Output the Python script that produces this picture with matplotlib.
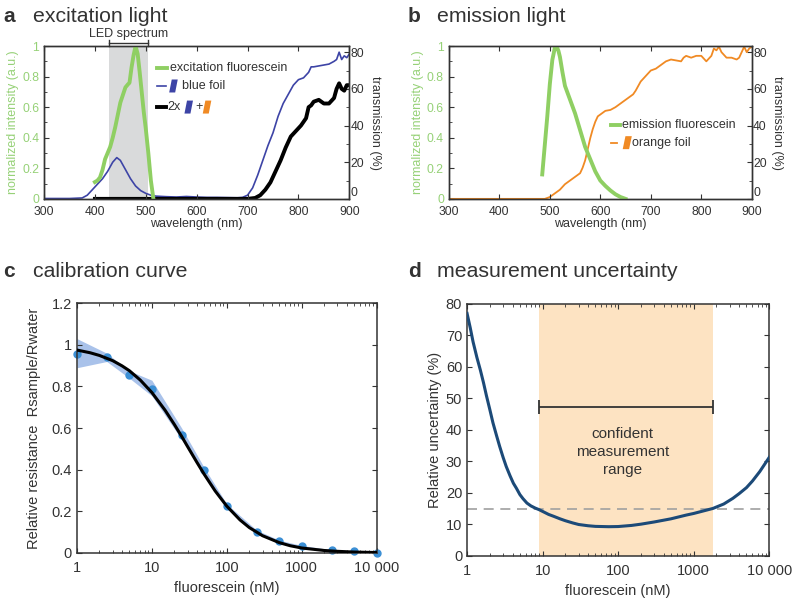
import matplotlib
matplotlib.use("Agg")
import matplotlib.pyplot as plt
from matplotlib.patches import Polygon
from matplotlib.ticker import MultipleLocator, FixedLocator, FixedFormatter, NullFormatter
import numpy as np

plt.rcParams['font.family'] = ['Liberation Sans', 'DejaVu Sans']
plt.rcParams['text.color'] = '#333333'
plt.rcParams['axes.labelcolor'] = '#333333'
plt.rcParams['xtick.color'] = '#333333'
plt.rcParams['ytick.color'] = '#333333'

# ---- panel a: excitation ----
exc_wl = [400, 405, 410, 415, 420, 425, 430, 435, 440, 445, 450, 455, 460, 465, 468,
          472, 476, 480, 484, 488, 492, 496, 500, 505, 510, 515]
exc_val = [0.11, 0.12, 0.14, 0.19, 0.26, 0.30, 0.34, 0.40, 0.47, 0.55, 0.63, 0.68, 0.73,
           0.75, 0.76, 0.86, 0.94, 1.0, 0.95, 0.83, 0.70, 0.57, 0.46, 0.30, 0.12, 0.0]

blue_wl = [300, 350, 375, 385, 395, 405, 415, 425, 435, 443, 450, 460, 470, 480, 490, 500,
           510, 520, 540, 560, 580, 600, 620, 640, 660, 680, 690, 700, 710, 720, 730, 740,
           750, 760, 770, 780, 790, 800, 810, 820, 825, 830, 840, 850, 860, 870, 875, 880,
           885, 890, 895, 900]
blue_val = [0.2, 0.2, 0.5, 2, 5, 8, 11, 15, 20, 22.5, 21, 16, 11, 7, 4.5, 3,
            2, 1.5, 1.2, 1.0, 1.3, 1.0, 0.8, 0.8, 0.7, 0.6, 0.8, 2, 6, 13, 21, 29,
            36, 45, 52, 57, 62, 65, 66, 69, 72, 72, 72.5, 73, 73.5, 75, 76, 80,
            76, 78, 77, 79]

blk_wl = [400, 500, 700, 715, 725, 735, 745, 755, 765, 775, 785, 795, 805, 815, 820, 825,
          830, 840, 850, 860, 870, 875, 880, 885, 890, 895, 900]
blk_val = [0, 0, 0, 0.5, 2, 5, 9, 15, 21, 28, 34, 37, 40, 44, 50, 51,
           53, 54, 52, 52, 55, 60, 63, 60, 59, 62, 62]

led_range = (428, 505)

# ---- panel b: emission ----
em_wl = [485, 490, 495, 500, 505, 510, 513, 517, 520, 525, 530, 540, 550, 560, 570, 580,
         590, 600, 610, 620, 630, 640, 650]
em_val = [0.16, 0.35, 0.54, 0.75, 0.91, 0.99, 1.0, 0.97, 0.93, 0.83, 0.74, 0.65, 0.56,
          0.45, 0.34, 0.26, 0.18, 0.12, 0.085, 0.055, 0.03, 0.012, 0.0]

or_wl = [300, 480, 490, 500, 510, 520, 530, 540, 550, 560, 565, 570, 575, 580, 585, 590,
         595, 600, 610, 620, 630, 640, 650, 660, 665, 670, 680, 690, 700, 710, 720, 730,
         740, 750, 760, 765, 770, 780, 790, 800, 810, 820, 825, 830, 835, 840, 850, 860,
         870, 875, 880, 885, 890, 895, 900]
or_val = [0, 0, 0, 1, 3, 5, 8, 10, 12, 14, 17, 21, 27, 33, 38, 42,
          45, 46, 48, 48.5, 50, 52, 54, 56, 57, 59, 64, 67, 70, 71, 73, 75,
          76, 75.5, 75, 77, 78, 77, 78, 78, 75, 78, 82, 81, 83, 80, 77, 77,
          76, 77, 80, 83, 80, 82, 83]

# ---- panel c: calibration ----
conc = [1, 2.5, 5, 10, 25, 50, 100, 250, 500, 1000, 2500, 5000, 10000]
ratio = [0.957, 0.94, 0.855, 0.788, 0.567, 0.398, 0.226, 0.10, 0.056, 0.032, 0.013, 0.008, 0.0]
band_lo = [0.89, 0.92, 0.84, 0.755, 0.545, 0.385, 0.215, 0.095, 0.05, 0.027, 0.01, 0.005, 0.0]
band_hi = [1.03, 0.96, 0.875, 0.83, 0.60, 0.41, 0.235, 0.11, 0.062, 0.036, 0.016, 0.01, 0.003]
fit_x = [1, 1.5, 2, 3, 4, 5, 7, 10, 15, 20, 25, 30, 40, 50, 70, 100, 150, 200, 300,
         500, 700, 1000, 2000, 3000, 5000, 10000]
fit_y = [0.975, 0.962, 0.949, 0.924, 0.899, 0.876, 0.831, 0.771, 0.686, 0.617, 0.56,
         0.511, 0.435, 0.378, 0.298, 0.225, 0.159, 0.122, 0.083, 0.050, 0.035, 0.024,
         0.012, 0.008, 0.0045, 0.0022]

# ---- panel d: uncertainty ----
unc_x = [1, 1.1, 1.2, 1.35, 1.5, 1.65, 1.8, 2.0, 2.2, 2.45, 2.7, 3.0, 3.3, 3.7, 4.1, 4.5,
         5, 5.5, 6.2, 7, 8, 9, 10.5, 12, 14, 17, 20, 25, 30, 40, 50, 75, 100,
         150, 200, 300, 500, 800, 1000, 1500, 1800, 2500, 3300, 4000, 5000, 6000, 7500, 10000]
unc_y = [77, 72.5, 68, 63, 59, 55, 51, 46.5, 42.3, 38.3, 34.8, 31.3, 28.4, 25.5, 23.1, 21.5,
         19.5, 18.2, 16.8, 15.9, 15.2, 14.7, 13.9, 13.2, 12.6, 11.8, 11.2, 10.5, 10.0, 9.6, 9.4,
         9.3, 9.35, 9.7, 10.1, 10.8, 11.8, 13.0, 13.5, 14.6, 15.1, 16.5, 18.3,
         19.8, 21.7, 23.8, 26.8, 31.3]
conf_range = (9, 1780)
threshold = 15
bar_level = 47.4

log_ticks = [1, 10, 100, 1000, 10000]
log_labels = ['1', '10', '100', '1000', '10 000']

GREEN = '#8fcf63'
GREEN_TXT = '#96d177'
BLUE = '#3d44a6'
ORANGE = '#f08a24'
DARK = '#333333'

fig = plt.figure(figsize=(7.93, 5.99), dpi=100)


def panel_title(x, y, letter, text):
    fig.text(x, y, letter, fontsize=15, fontweight='bold', color=DARK, va='baseline')
    fig.text(x + 0.037, y, text, fontsize=15.3, color=DARK, va='baseline')


def para(ax, x0, x1, y, h, color):
    s = (x1 - x0) * 0.3
    pts = [(x0, y - h / 2), (x1 - s, y - h / 2), (x1, y + h / 2), (x0 + s, y + h / 2)]
    ax.add_patch(Polygon(pts, closed=True, transform=ax.transAxes, color=color,
                         clip_on=False, lw=0))


def spectrum_axes(rect):
    ax = fig.add_axes(rect)
    ax.set_xlim(300, 900)
    ax.set_ylim(0, 1)
    ax.xaxis.set_major_locator(MultipleLocator(100))
    ax.yaxis.set_minor_locator(MultipleLocator(0.1))
    ax.set_yticks([0, 0.2, 0.4, 0.6, 0.8, 1.0])
    ax.set_yticklabels(['0', '0.2', '0.4', '0.6', '0.8', '1'])
    ax.tick_params(axis='both', which='both', direction='in', labelsize=8.7, top=True, right=False)
    ax.tick_params(axis='x', pad=5)
    ax.tick_params(axis='y', which='both', labelcolor=GREEN_TXT, color=DARK)
    ax.set_ylabel('normalized intensity (a.u.)', color=GREEN_TXT, fontsize=9, labelpad=2)
    ax.set_xlabel('wavelength (nm)', fontsize=9, labelpad=0)
    ax2 = ax.twinx()
    ax2.set_ylim(0, 83.3)
    ax2.set_yticks([0, 20, 40, 60, 80])
    ax2.yaxis.set_minor_locator(MultipleLocator(10))
    ax2.tick_params(axis='y', which='both', direction='in', labelsize=8.7, pad=1)
    ax2.set_ylabel('transmission (%)', fontsize=9, rotation=270, labelpad=12)
    for lbl in ax2.get_yticklabels():
        lbl.set_va('bottom') if lbl.get_text() == '0' else None
    for a in (ax, ax2):
        for sp in a.spines.values():
            sp.set_color(DARK)
            sp.set_linewidth(1.0)
    return ax, ax2


# ---------------- panel a ----------------
axa, axa2 = spectrum_axes([0.0555, 0.668, 0.385, 0.255])
axa2.axvspan(led_range[0], led_range[1], color='#d9dadb', lw=0, zorder=0)
axa2.plot(blue_wl, blue_val, color=BLUE, lw=1.2, zorder=2)
axa2.plot(blk_wl, blk_val, color='black', lw=2.8, zorder=2)
axa.set_zorder(axa2.get_zorder() + 1)
axa.patch.set_visible(False)
axa.plot(exc_wl, exc_val, color=GREEN, lw=2.8)
# LED bracket
tr = axa.get_xaxis_transform()
axa.plot([led_range[0], led_range[1]], [1.02, 1.02], color=DARK, lw=1, clip_on=False, transform=tr)
for xb in led_range:
    axa.plot([xb, xb], [1.0, 1.04], color=DARK, lw=1, clip_on=False, transform=tr)
axa.text(sum(led_range) / 2, 1.06, 'LED spectrum', ha='center', va='baseline', fontsize=9,
         transform=tr)
# legend
axa.plot([0.370, 0.403], [0.856, 0.856], color=GREEN, lw=2.8, transform=axa.transAxes, clip_on=False)
axa.text(0.413, 0.856, 'excitation fluorescein', va='center', fontsize=9, transform=axa.transAxes)
axa.plot([0.370, 0.400], [0.739, 0.739], color=BLUE, lw=1.2, transform=axa.transAxes)
para(axa, 0.410, 0.438, 0.739, 0.085, BLUE)
axa.text(0.452, 0.739, 'blue foil', va='center', fontsize=9, transform=axa.transAxes)
axa.plot([0.370, 0.400], [0.601, 0.601], color='black', lw=2.8, transform=axa.transAxes)
axa.text(0.405, 0.601, '2x', va='center', fontsize=9, transform=axa.transAxes)
para(axa, 0.460, 0.488, 0.601, 0.085, BLUE)
axa.text(0.495, 0.601, '+', va='center', fontsize=9, transform=axa.transAxes)
para(axa, 0.520, 0.548, 0.601, 0.085, ORANGE)
panel_title(0.004, 0.963, 'a', 'excitation light')

# ---------------- panel b ----------------
axb, axb2 = spectrum_axes([0.566, 0.668, 0.382, 0.255])
axb2.plot(or_wl, or_val, color=ORANGE, lw=1.3)
axb.set_zorder(axb2.get_zorder() + 1)
axb.patch.set_visible(False)
axb.plot(em_wl, em_val, color=GREEN, lw=2.8)
axb.plot([0.536, 0.566], [0.484, 0.484], color=GREEN, lw=2.8, transform=axb.transAxes)
axb.text(0.570, 0.484, 'emission fluorescein', va='center', fontsize=9, transform=axb.transAxes)
axb.plot([0.536, 0.556], [0.368, 0.368], color=ORANGE, lw=1.3, transform=axb.transAxes)
para(axb, 0.574, 0.604, 0.368, 0.085, ORANGE)
axb.text(0.606, 0.368, 'orange foil', va='center', fontsize=9, transform=axb.transAxes)
panel_title(0.5145, 0.963, 'b', 'emission light')


def log_axes(rect):
    ax = fig.add_axes(rect)
    ax.set_xscale('log')
    ax.set_xlim(1, 10000)
    ax.xaxis.set_major_locator(FixedLocator(log_ticks))
    ax.xaxis.set_major_formatter(FixedFormatter(log_labels))
    ax.xaxis.set_minor_formatter(NullFormatter())
    ax.tick_params(axis='both', which='both', direction='in', labelsize=10.5, top=True, right=True)
    ax.tick_params(axis='x', which='major', pad=6)
    for sp in ax.spines.values():
        sp.set_color(DARK)
        sp.set_linewidth(1.1)
    ax.set_xlabel('fluorescein (nM)', fontsize=10.5, labelpad=4)
    return ax


# ---------------- panel c ----------------
axc = log_axes([0.097, 0.0768, 0.378, 0.417])
axc.set_ylim(0, 1.2)
axc.set_yticks([0, 0.2, 0.4, 0.6, 0.8, 1.0, 1.2])
axc.set_yticklabels(['0', '0.2', '0.4', '0.6', '0.8', '1', '1.2'])
axc.fill_between(conc, band_lo, band_hi, color='#a9c2ea', lw=0, zorder=1)
axc.plot(conc, ratio, 'o', color='#3b8fd5', ms=5, zorder=2, clip_on=False)
axc.plot(fit_x, fit_y, color='black', lw=2.2, zorder=3)
axc.set_ylabel('Relative resistance  Rsample/Rwater', fontsize=10.5, labelpad=8)
panel_title(0.004, 0.537, 'c', 'calibration curve')

# ---------------- panel d ----------------
axd = log_axes([0.589, 0.0718, 0.381, 0.4207])
axd.set_ylim(0, 80)
axd.set_yticks(range(0, 81, 10))
axd.axvspan(conf_range[0], conf_range[1], color='#fde3c2', lw=0, zorder=0)
axd.axhline(threshold, color='#a0a0a0', lw=1.2, ls=(0, (6, 4)), zorder=1)
axd.plot(unc_x, unc_y, color='#1c4a78', lw=2.2, zorder=3)
mid = np.sqrt(conf_range[0] * conf_range[1])
axd.errorbar([mid], [bar_level], xerr=[[mid - conf_range[0]], [conf_range[1] - mid]],
             fmt='none', ecolor=DARK, elinewidth=1.3, capsize=5, capthick=1.3)
axd.text(115, 33, 'confident\nmeasurement\nrange', ha='center', va='center', fontsize=11,
         linespacing=1.35)
axd.set_ylabel('Relative uncertainty (%)', fontsize=10.5, labelpad=3)
panel_title(0.5145, 0.537, 'd', 'measurement uncertainty')

fig.savefig('out.png', dpi=100)
